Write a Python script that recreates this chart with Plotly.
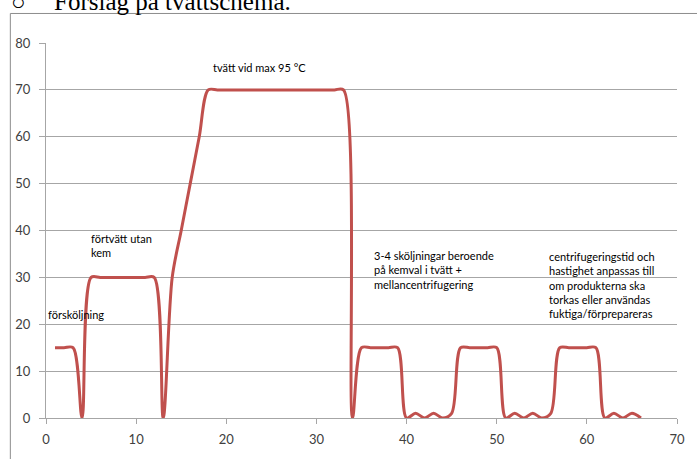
import plotly.graph_objects as go

# Data
x_vals = list(range(1, 67))
y_vals = [15, 15, 15, 0, 30, 30, 30, 30, 30, 30, 30, 30, 0,
          30, 40, 50, 60, 70,
          70, 70, 70, 70, 70, 70, 70, 70, 70, 70, 70, 70, 70, 70, 70,
          0, 15, 15, 15, 15, 15,
          0, 1, 0, 1, 0, 1,
          15, 15, 15, 15, 15,
          0, 1, 0, 1, 0, 1,
          15, 15, 15, 15, 15,
          0, 1, 0, 1, 0]

x_ticks = [0, 10, 20, 30, 40, 50, 60, 70]
y_ticks = [0, 10, 20, 30, 40, 50, 60, 70, 80]

labels = [
    (0.0, 24.0, "försköljning"),
    (4.8, 40.2, "förtvätt utan<br>kem"),
    (18.3, 76.6, "tvätt vid max 95 °C"),
    (36.2, 36.4, "3-4 sköljningar beroende<br>på kemval i tvätt +<br>mellancentrifugering"),
    (55.6, 36.3, "centrifugeringstid och<br>hastighet anpassas till<br>om produkterna ska<br>torkas eller användas<br>fuktiga/förprepareras"),
]

W, H = 697, 459
L, R, T, B = 46, 14, 43, 35

fig = go.Figure()
fig.add_trace(go.Scatter(
    x=x_vals, y=y_vals, mode="lines",
    line=dict(color="#c0504d", width=3, shape="spline", smoothing=0.9),
    hoverinfo="skip", showlegend=False,
))

for lx, ly, txt in labels:
    fig.add_annotation(x=lx, y=ly, xref="x", yref="y", text=txt, showarrow=False,
                       xanchor="left", yanchor="top", align="left",
                       font=dict(family="Lato", size=11, color="#000000"))

pw = W - L - R
ph = H - T - B

def px_x(p):
    return (p - L) / pw

def px_y(p):
    return (H - B - p) / ph

# frame of the embedded chart
fig.add_shape(type="rect", xref="paper", yref="paper",
              x0=px_x(10), x1=px_x(720), y0=px_y(480), y1=px_y(13),
              line=dict(color="#8c8c8c", width=1), fillcolor="rgba(0,0,0,0)", layer="below")

# heading text (clipped at top)
fig.add_annotation(xref="paper", yref="paper", x=px_x(9), y=px_y(1), text="○",
                   showarrow=False, xanchor="left", yanchor="middle",
                   font=dict(family="Liberation Serif", size=24, color="#000000"))
fig.add_annotation(xref="paper", yref="paper", x=px_x(52), y=px_y(1), text="Förslag på tvättschema.",
                   showarrow=False, xanchor="left", yanchor="middle",
                   font=dict(family="Liberation Serif", size=25, color="#000000"))

fig.update_layout(
    width=W, height=H,
    margin=dict(l=L, r=R, t=T, b=B, pad=0),
    paper_bgcolor="white", plot_bgcolor="white",
    font=dict(family="Lato", size=13, color="#404040"),
)
fig.update_xaxes(range=[0, 70], tickvals=x_ticks, showgrid=False, zeroline=False,
                 showline=True, linecolor="#a6a6a6", linewidth=1,
                 ticks="outside", ticklen=5, tickcolor="#a6a6a6", ticklabelstandoff=4)
fig.update_yaxes(range=[0, 80], tickvals=y_ticks, showgrid=True, gridcolor="#a6a6a6", gridwidth=1,
                 zeroline=False, showline=True, linecolor="#a6a6a6", linewidth=1,
                 ticks="outside", ticklen=6, tickcolor="#a6a6a6", ticklabelstandoff=6)

fig.write_html("out.html", config={"displayModeBar": False},
               post_script="document.body.style.margin='0';")
